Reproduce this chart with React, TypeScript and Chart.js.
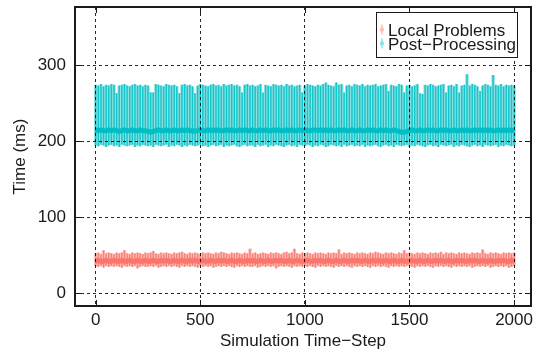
import React, { useEffect, useRef } from "react";
import { Chart, registerables } from "chart.js";

Chart.register(...registerables);

// ---- data ----
const STEP = 12.5; // time-step spacing of the plotted samples
const seriesNames = ["Local Problems", "Post\u2212Processing"];
const xTicks = [0, 500, 1000, 1500, 2000];
const yTicks = [0, 100, 200, 300];

const tealHi = [
  274, 273, 275, 272, 274, 273, 275, 274, 263, 273, 274, 275, 273, 272, 274, 275, 273, 274, 272, 274,
  273, 264, 264, 275, 274, 273, 272, 275, 274, 273, 274, 272, 263, 274, 275, 273, 274, 272, 263, 273,
  275, 274, 273, 272, 274, 275, 273, 274, 272, 275, 273, 274, 275, 273, 274, 272, 264, 274, 275, 273,
  274, 272, 273, 275, 264, 274, 273, 272, 275, 274, 273, 274, 272, 275, 273, 274, 272, 273, 274, 264,
  273, 275, 274, 273, 272, 274, 273, 275, 277, 274, 273, 272, 277, 274, 275, 264, 273, 274, 272, 275,
  274, 273, 275, 272, 274, 273, 274, 275, 272, 273, 274, 275, 266, 274, 273, 272, 275, 274, 264, 273,
  274, 272, 273, 275, 263, 262, 274, 273, 275, 274, 272, 273, 274, 275, 264, 273, 274, 272, 275, 264,
  273, 274, 288, 273, 275, 274, 272, 266, 273, 275, 274, 272, 287, 274, 273, 275, 272, 274, 273, 274,
  273,
];
const tealLo = [
  195, 194, 196, 195, 193, 195, 196, 194, 195, 193, 196, 195, 194, 195, 196, 193, 195, 194, 196, 195,
  194, 195, 193, 196, 195, 194, 195, 196, 193, 195, 194, 196, 195, 193, 195, 194, 196, 195, 194, 195,
  196, 194, 195, 193, 195, 196, 194, 195, 196, 193, 195, 194, 195, 196, 194, 193, 195, 196, 194, 195,
  195, 193, 196, 194, 195, 196, 193, 195, 194, 196, 195, 194, 193, 195, 196, 194, 195, 193, 196, 195,
  194, 196, 195, 193, 195, 194, 196, 195, 193, 194, 196, 195, 194, 195, 193, 196, 194, 195, 196, 194,
  195, 194, 196, 193, 195, 194, 195, 196, 194, 193, 195, 196, 194, 195, 193, 196, 195, 194, 195, 196,
  193, 195, 194, 196, 195, 194, 193, 195, 196, 194, 195, 193, 196, 195, 194, 195, 196, 193, 195, 194,
  196, 195, 194, 193, 195, 196, 194, 195, 193, 196, 195, 194, 195, 196, 193, 195, 194, 196, 195, 194,
  195,
];
const tealMean = [
  215, 214, 215, 214, 214, 215, 214, 215, 214, 213, 214, 215, 214, 214, 215, 214, 214, 215, 214, 214,
  213, 212, 213, 214, 215, 214, 214, 215, 214, 214, 215, 214, 214, 215, 214, 215, 214, 214, 213, 214,
  215, 214, 214, 215, 214, 215, 214, 215, 214, 214, 215, 214, 215, 214, 214, 215, 214, 215, 214, 214,
  215, 214, 214, 215, 214, 215, 214, 214, 215, 214, 215, 214, 214, 215, 214, 215, 214, 214, 215, 214,
  215, 214, 214, 215, 215, 214, 215, 214, 215, 214, 215, 214, 214, 215, 214, 215, 214, 214, 215, 214,
  214, 215, 214, 214, 215, 214, 215, 214, 214, 215, 214, 215, 214, 214, 215, 214, 213, 212, 212, 213,
  214, 215, 214, 214, 215, 214, 214, 215, 214, 215, 214, 214, 215, 214, 215, 214, 214, 215, 214, 214,
  215, 214, 215, 214, 214, 215, 214, 215, 214, 215, 214, 215, 214, 214, 215, 214, 215, 214, 215, 214,
  215,
];
const redHi = [
  52, 53, 51, 56, 52, 53, 52, 51, 53, 52, 53, 56, 52, 51, 53, 52, 53, 52, 51, 53,
  52, 53, 55, 52, 51, 53, 52, 53, 52, 51, 53, 52, 53, 54, 52, 51, 53, 52, 53, 52,
  51, 53, 52, 53, 52, 51, 53, 52, 54, 53, 52, 51, 53, 52, 53, 52, 51, 53, 52, 58,
  52, 53, 51, 52, 53, 52, 51, 53, 52, 53, 52, 51, 53, 54, 52, 53, 58, 52, 51, 53,
  52, 53, 52, 51, 53, 52, 53, 52, 51, 53, 52, 53, 52, 57, 51, 53, 52, 53, 52, 51,
  53, 52, 53, 52, 51, 53, 52, 54, 53, 52, 51, 53, 52, 53, 52, 51, 53, 52, 56, 52,
  53, 52, 51, 53, 52, 53, 52, 51, 53, 52, 53, 52, 54, 51, 53, 52, 53, 52, 51, 53,
  52, 53, 52, 51, 53, 52, 53, 52, 57, 52, 51, 53, 52, 53, 52, 51, 53, 52, 53, 52,
  53,
];
const redLo = [
  36, 35, 36, 34, 36, 35, 36, 35, 36, 35, 34, 36, 35, 36, 35, 36, 33, 35, 36, 35,
  35, 36, 35, 36, 34, 35, 36, 35, 36, 35, 36, 35, 34, 36, 35, 36, 35, 36, 35, 34,
  36, 35, 36, 35, 36, 34, 35, 36, 35, 36, 35, 36, 35, 34, 36, 35, 36, 35, 36, 35,
  35, 36, 34, 35, 36, 35, 36, 35, 36, 33, 35, 36, 35, 36, 35, 34, 36, 35, 36, 35,
  36, 35, 36, 35, 34, 36, 35, 36, 35, 36, 35, 34, 36, 35, 36, 35, 36, 35, 34, 36,
  35, 36, 35, 36, 35, 34, 36, 35, 36, 35, 36, 35, 34, 36, 35, 36, 35, 36, 35, 36,
  36, 35, 34, 36, 35, 36, 35, 36, 35, 34, 36, 35, 36, 35, 36, 35, 34, 36, 35, 36,
  35, 36, 35, 36, 34, 35, 36, 35, 36, 35, 36, 34, 35, 36, 35, 36, 35, 36, 34, 35,
  36,
];
const redMean = [
  42, 43, 42, 42, 43, 42, 42, 43, 42, 42, 43, 42, 42, 43, 42, 42, 43, 42, 42, 43,
  42, 42, 43, 42, 42, 43, 42, 43, 42, 42, 43, 42, 42, 43, 42, 42, 43, 42, 43, 42,
  42, 43, 42, 42, 43, 42, 42, 43, 42, 43, 42, 42, 43, 42, 42, 43, 42, 42, 43, 42,
  43, 42, 42, 43, 42, 42, 43, 42, 42, 43, 42, 43, 42, 42, 43, 42, 42, 43, 42, 42,
  42, 43, 42, 42, 43, 42, 43, 42, 42, 43, 42, 42, 43, 42, 42, 43, 42, 42, 43, 42,
  43, 42, 42, 43, 42, 42, 43, 42, 43, 42, 42, 43, 42, 42, 43, 42, 42, 43, 42, 42,
  42, 43, 42, 42, 43, 42, 42, 43, 42, 42, 43, 42, 43, 42, 42, 43, 42, 42, 43, 42,
  43, 42, 42, 43, 42, 43, 42, 42, 43, 42, 42, 43, 42, 42, 43, 42, 43, 42, 42, 43,
  42,
];
const timeSteps = tealHi.map((_, i) => i * STEP);

// ---- styles ----
const RED = "#f8766d";
const RED_BAR = "rgba(248,118,109,0.85)";
const RED_LIGHT = "#fcc0bb";
const TEAL = "#00bfc4";
const TEAL_BAR = "rgba(0,191,196,0.85)";
const TEAL_LIGHT = "#8fe2e4";
const INK = "#1a1a1a";
const FONT = "'Liberation Sans', Arial, Helvetica, sans-serif";
const barColors = [RED_BAR, TEAL_BAR];
const lightColors = [RED_LIGHT, TEAL_LIGHT];

const rangeData = (lo: number[], hi: number[]) =>
  timeSteps.map((x, i) => ({ x, y: [lo[i], hi[i]] }));
const meanData = (m: number[]) => timeSteps.map((x, i) => ({ x, y: m[i] }));

const framePlugin = {
  id: "frame",
  afterDraw(chart: any) {
    const { ctx, chartArea: a, scales } = chart;
    const x = scales.x;
    const y = scales.y;
    ctx.save();
    ctx.strokeStyle = INK;
    ctx.lineWidth = 1;
    // inward tick marks
    const tl = 6;
    xTicks.forEach((v) => {
      const px = Math.round(x.getPixelForValue(v)) + 0.5;
      ctx.beginPath();
      ctx.moveTo(px, a.bottom);
      ctx.lineTo(px, a.bottom - tl);
      ctx.moveTo(px, a.top);
      ctx.lineTo(px, a.top + tl);
      ctx.stroke();
    });
    yTicks.forEach((v) => {
      const py = Math.round(y.getPixelForValue(v)) + 0.5;
      ctx.beginPath();
      ctx.moveTo(a.left, py);
      ctx.lineTo(a.left + tl, py);
      ctx.moveTo(a.right, py);
      ctx.lineTo(a.right - tl, py);
      ctx.stroke();
    });
    // frame
    ctx.lineWidth = 2;
    ctx.strokeRect(a.left, a.top, a.right - a.left, a.bottom - a.top);

    // legend
    const bx = 376, by = 12, bw = 141, bh = 45;
    ctx.fillStyle = "#ffffff";
    ctx.fillRect(bx, by, bw, bh);
    ctx.lineWidth = 1;
    ctx.strokeStyle = INK;
    ctx.strokeRect(bx + 0.5, by + 0.5, bw, bh);
    ctx.font = `17px ${FONT}`;
    ctx.textBaseline = "alphabetic";
    ctx.textAlign = "left";
    const rows = [35.5, 49.5];
    seriesNames.forEach((name, i) => {
      const cy = rows[i] - 6;
      ctx.strokeStyle = lightColors[i];
      ctx.lineWidth = 1.5;
      ctx.beginPath();
      ctx.moveTo(382, cy - 5);
      ctx.lineTo(382, cy + 5);
      ctx.stroke();
      ctx.fillStyle = lightColors[i];
      ctx.beginPath();
      ctx.arc(382, cy, 2.2, 0, Math.PI * 2);
      ctx.fill();
      ctx.fillStyle = INK;
      ctx.fillText(name, 388, rows[i]);
    });
    ctx.restore();
  },
};

const axisFont = { size: 17, family: FONT };

export default function App() {
  const ref = useRef<HTMLCanvasElement | null>(null);

  useEffect(() => {
    if (!ref.current) return;
    Chart.defaults.font.family = FONT;
    const chart = new Chart(ref.current, {
      type: "bar",
      data: {
        datasets: [
          {
            type: "line",
            label: seriesNames[0] + " mean",
            data: meanData(redMean),
            borderColor: RED,
            borderWidth: 5,
            pointRadius: 0,
            order: -1,
          },
          {
            type: "line",
            label: seriesNames[1] + " mean",
            data: meanData(tealMean),
            borderColor: TEAL,
            borderWidth: 5,
            pointRadius: 0,
            order: -1,
          },
          {
            type: "bar",
            label: seriesNames[0],
            data: rangeData(redLo, redHi),
            backgroundColor: barColors[0],
            barThickness: 0.8,
            grouped: false,
            order: 1,
          },
          {
            type: "bar",
            label: seriesNames[1],
            data: rangeData(tealLo, tealHi),
            backgroundColor: barColors[1],
            barThickness: 0.8,
            grouped: false,
            order: 1,
          },
          {
            type: "bar",
            label: seriesNames[0] + " spread",
            data: rangeData(redLo, redHi),
            backgroundColor: lightColors[0],
            barThickness: 2.8,
            grouped: false,
            order: 2,
          },
          {
            type: "bar",
            label: seriesNames[1] + " spread",
            data: rangeData(tealLo, tealHi),
            backgroundColor: lightColors[1],
            barThickness: 2.8,
            grouped: false,
            order: 2,
          },
        ] as any,
      },
      options: {
        responsive: false,
        animation: false,
        events: [],
        layout: { padding: { top: 7, right: 3, left: 0, bottom: 0 } },
        plugins: {
          legend: { display: false },
          tooltip: { enabled: false },
        },
        scales: {
          x: {
            type: "linear",
            min: -99,
            max: 2081,
            offset: false,
            afterBuildTicks: (s: any) => {
              s.ticks = xTicks.map((v) => ({ value: v }));
            },
            afterFit: (s: any) => {
              s.height = 49;
              s.paddingLeft = 0;
              s.paddingRight = 0;
            },
            grid: {
              z: 1,
              offset: false,
              color: "rgba(0,0,0,0.85)",
              lineWidth: 1,
              drawTicks: false,
            },
            border: { display: false, dash: [3, 3] },
            ticks: {
              color: INK,
              font: axisFont,
              padding: 4,
              maxRotation: 0,
              callback: (v: any) => String(v),
            },
            title: {
              display: true,
              text: "Simulation Time\u2212Step",
              color: INK,
              font: axisFont,
              padding: { top: 0, bottom: 3 },
            },
          },
          y: {
            type: "linear",
            min: -17,
            max: 377,
            afterBuildTicks: (s: any) => {
              s.ticks = yTicks.map((v) => ({ value: v }));
            },
            afterFit: (s: any) => {
              s.width = 75;
              s.paddingTop = 0;
              s.paddingBottom = 0;
            },
            grid: {
              z: 1,
              offset: false,
              color: "rgba(0,0,0,0.85)",
              lineWidth: 1,
              drawTicks: false,
            },
            border: { display: false, dash: [3, 3] },
            ticks: {
              color: INK,
              font: axisFont,
              padding: 9,
              callback: (v: any) => String(v),
            },
            title: {
              display: true,
              text: "Time (ms)",
              color: INK,
              font: axisFont,
              padding: { top: 10, bottom: 0 },
            },
          },
        },
      },
      plugins: [framePlugin],
    });
    return () => chart.destroy();
  }, []);

  return (
    <>
      <style>{`body{margin:0}`}</style>
      <canvas ref={ref} width={534} height={355} style={{ display: "block" }} />
    </>
  );
}
